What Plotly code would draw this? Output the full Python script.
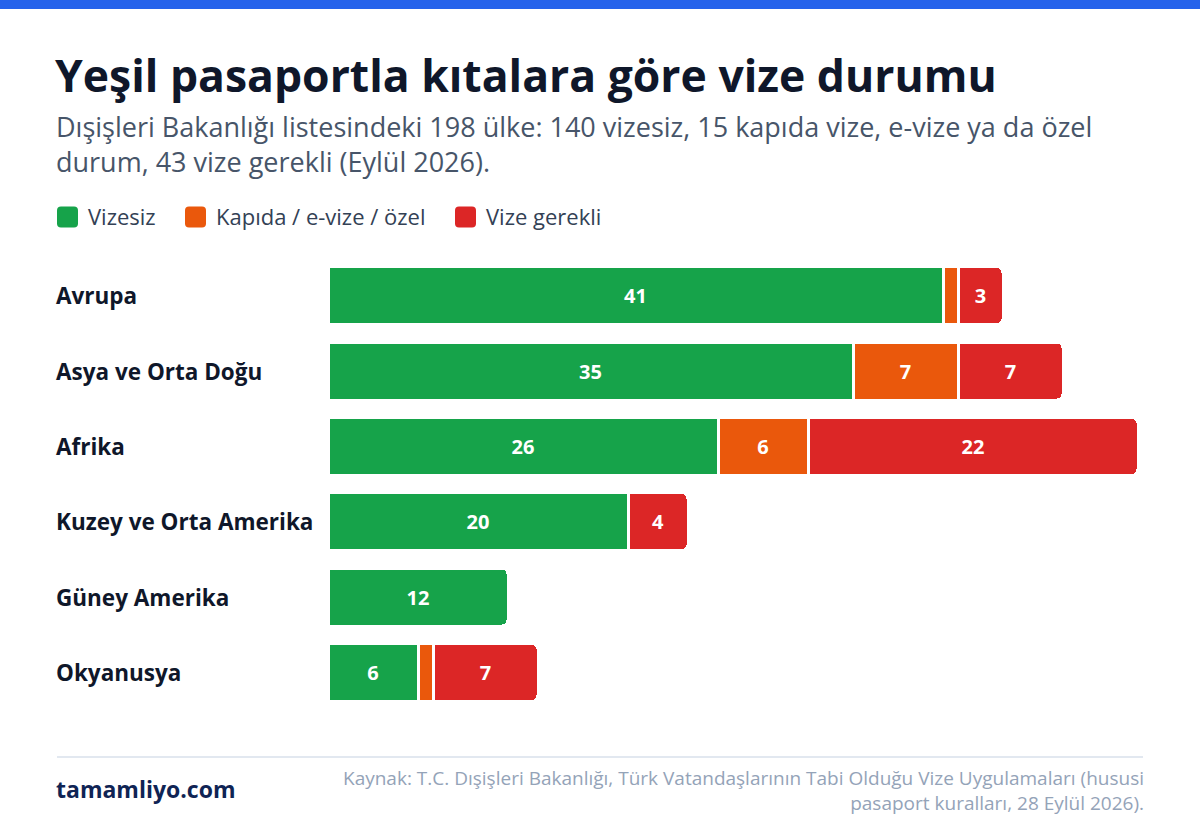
import plotly.graph_objects as go

# ---- data ----
regions = ["Avrupa", "Asya ve Orta Doğu", "Afrika", "Kuzey ve Orta Amerika", "Güney Amerika", "Okyanusya"]
vizesiz = [41, 35, 26, 20, 12, 6]
kapida = [1, 7, 6, 0, 0, 1]
vize_gerekli = [3, 7, 22, 4, 0, 7]
series_names = ["Vizesiz", "Kapıda / e-vize / özel", "Vize gerekli"]
series_colors = ["#16A34A", "#EA580C", "#DC2626"]

title = "Yeşil pasaportla kıtalara göre vize durumu"
subtitle_1 = "Dışişleri Bakanlığı listesindeki 198 ülke: 140 vizesiz, 15 kapıda vize, e-vize ya da özel"
subtitle_2 = "durum, 43 vize gerekli (Eylül 2026)."
brand = "tamamliyo.com"
source = "Kaynak: T.C. Dışişleri Bakanlığı, Türk Vatandaşlarının Tabi Olduğu Vize Uygulamaları (hususi<br>pasaport kuralları, 28 Eylül 2026)."

FONT = "Open Sans"
W, H = 1200, 820
L, R, T, B = 328, 50, 258, 110
PW, PH = W - L - R, H - T - B
XMAX = PW / 15.0


def px(x):
    return (x - L) / PW


def py(y):
    return (H - B - y) / PH


fig = go.Figure()
for name, vals, col in zip(series_names, [vizesiz, kapida, vize_gerekli], series_colors):
    xs = [v if v else None for v in vals]
    txt = [str(v) if v and v > 1 else "" for v in vals]
    fig.add_trace(go.Bar(
        y=regions, x=xs, name=name, orientation="h",
        marker=dict(color=col, line=dict(color="white", width=3), cornerradius=6),
        text=txt, textposition="inside", insidetextanchor="middle", textangle=0,
        textfont=dict(family=FONT, size=20, color="white", weight=700),
        showlegend=False, hoverinfo="skip",
    ))

fig.update_layout(
    width=W, height=H, barmode="stack", bargap=0.23,
    margin=dict(l=L, r=R, t=T, b=B, pad=0),
    paper_bgcolor="white", plot_bgcolor="white",
    font=dict(family=FONT),
    xaxis=dict(visible=False, range=[0, XMAX], fixedrange=True),
    yaxis=dict(visible=True, showticklabels=False, showgrid=False, zeroline=False,
               showline=False, ticks="", autorange="reversed", fixedrange=True),
    hovermode=False,
)

shapes = []
annotations = []
# top blue band
shapes.append(dict(type="rect", xref="paper", yref="paper", x0=px(0), x1=px(W), y0=py(0), y1=py(9),
                   fillcolor="#2563EB", line=dict(width=0), layer="above"))

# title and subtitle
annotations.append(dict(text=title, xref="paper", yref="paper", x=px(53), y=py(74), xanchor="left", yanchor="middle",
                        showarrow=False, font=dict(family=FONT, size=44.5, color="#0F172A", weight=700)))
annotations.append(dict(text=subtitle_1, xref="paper", yref="paper", x=px(54), y=py(126), xanchor="left", yanchor="middle",
                        showarrow=False, font=dict(family=FONT, size=27, color="#475569")))
annotations.append(dict(text=subtitle_2, xref="paper", yref="paper", x=px(54), y=py(161), xanchor="left", yanchor="middle",
                        showarrow=False, font=dict(family=FONT, size=27, color="#475569")))

# legend
legend_x = [57, 185, 455]
rr = 4
sq = 21
h2 = sq / 2
path = (f"M {rr},{-h2} L {sq-rr},{-h2} Q {sq},{-h2} {sq},{-h2+rr} L {sq},{h2-rr} Q {sq},{h2} {sq-rr},{h2} "
        f"L {rr},{h2} Q 0,{h2} 0,{h2-rr} L 0,{-h2+rr} Q 0,{-h2} {rr},{-h2} Z")
for name, col, lx in zip(series_names, series_colors, legend_x):
    shapes.append(dict(type="path", xref="paper", yref="paper", xsizemode="pixel", ysizemode="pixel",
                       xanchor=px(lx), yanchor=py(217), path=path, fillcolor=col, line=dict(width=0)))
    annotations.append(dict(text=name, xref="paper", yref="paper", x=px(lx + sq + 8), y=py(216),
                            xanchor="left", yanchor="middle", showarrow=False,
                            font=dict(family=FONT, size=22, color="#334155")))

# category labels
for reg in regions:
    annotations.append(dict(text=reg, xref="paper", yref="y", x=px(54), y=reg, xanchor="left", yanchor="middle",
                            showarrow=False, font=dict(family=FONT, size=22.5, color="#0F172A", weight=700)))

# footer
shapes.append(dict(type="line", xref="paper", yref="paper", x0=px(57), x1=px(1143), y0=py(757), y1=py(757),
                   line=dict(color="#E2E8F0", width=2)))
annotations.append(dict(text=brand, xref="paper", yref="paper", x=px(54), y=py(789), xanchor="left", yanchor="middle",
                        showarrow=False, font=dict(family=FONT, size=23, color="#0F2454", weight=700)))
annotations.append(dict(text=source, xref="paper", yref="paper", x=px(1146), y=py(790), xanchor="right", yanchor="middle",
                        align="right", showarrow=False, font=dict(family=FONT, size=19, color="#94A3B8")))

fig.update_layout(shapes=shapes, annotations=annotations)
fig.write_html("out.html")
